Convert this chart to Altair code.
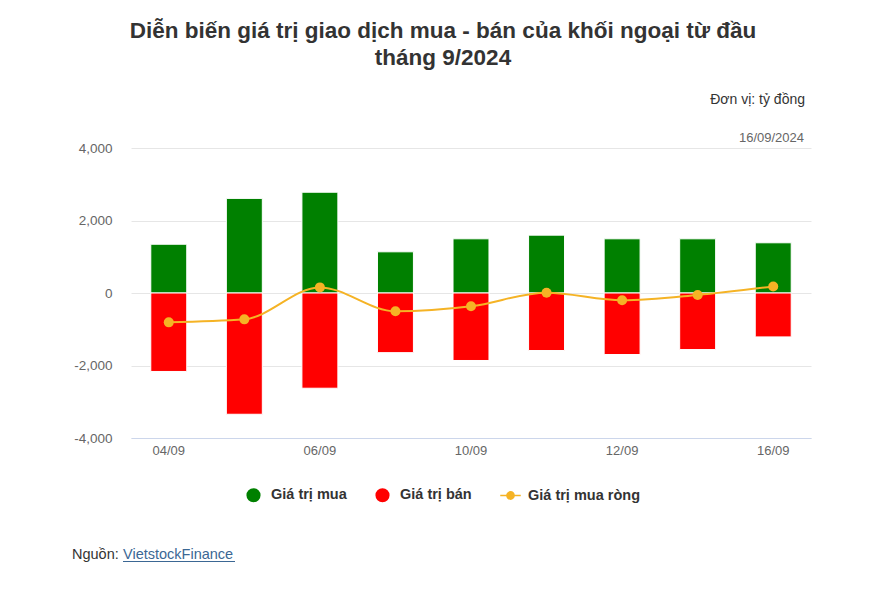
import altair as alt
import pandas as pd

dates = ["04/09", "05/09", "06/09", "09/09", "10/09", "11/09", "12/09", "13/09", "16/09"]
buy = [1345, 2610, 2780, 1136, 1495, 1596, 1495, 1495, 1385]
sell = [-2165, -3345, -2627, -1645, -1862, -1587, -1697, -1560, -1211]
net = [-810, -727, 155, -505, -367, 9, -200, -55, 180]

series_names = ["Giá trị mua", "Giá trị bán", "Giá trị mua ròng"]
series_colors = ["#008000", "#ff0000", "#f5b325"]
x_tick_labels = ["04/09", "06/09", "10/09", "12/09", "16/09"]
y_ticks = [-4000, -2000, 0, 2000, 4000]

FONT = "Liberation Sans"

bars_df = pd.DataFrame(
    {"date": dates * 2,
     "series": [series_names[0]] * len(dates) + [series_names[1]] * len(dates),
     "value": buy + sell}
)
net_df = pd.DataFrame({"date": dates, "series": series_names[2], "value": net})
legend_df = pd.DataFrame({"date": dates[:3], "series": series_names, "value": [0, 0, 0]})

color_scale = alt.Scale(domain=series_names, range=series_colors)
x_enc = alt.X(
    "date:N", sort=dates, title=None,
    scale=alt.Scale(paddingInner=0.524, paddingOuter=0.262),
    axis=alt.Axis(values=x_tick_labels, labelAngle=0, ticks=False, domainColor="#ccd6eb",
                  labelColor="#666666", labelFontSize=13, labelFont=FONT, labelPadding=6,
                  grid=False),
)
y_enc = alt.Y(
    "value:Q", title=None,
    scale=alt.Scale(domain=[-4000, 4000], nice=False),
    axis=alt.Axis(values=y_ticks, format=",d", ticks=False, domain=False,
                  labelExpr="replace(datum.label, '\u2212', '-')",
                  gridColor="#e6e6e6", labelColor="#666666", labelFontSize=13.5,
                  labelFont=FONT, labelPadding=19),
)

line_symbol = ("M-1.45,-0.12L-0.6,-0.12L-0.6,0.12L-1.45,0.12Z "
               "M0.6,-0.12L1.45,-0.12L1.45,0.12L0.6,0.12Z "
               "M-0.62,0A0.62,0.62,0,1,1,0.62,0A0.62,0.62,0,1,1,-0.62,0Z")

legend_cfg = dict(orient="none", legendX=115, legendY=339.5, direction="horizontal",
                  symbolStrokeWidth=0, labelFont=FONT, labelFontSize=14.5,
                  labelFontWeight="bold", labelColor="#333333", labelOffset=10,
                  columnPadding=28, symbolSize=200, title=None)

color_enc = alt.Color("series:N", scale=color_scale, title=None,
                      legend=alt.Legend(**legend_cfg))

bars = alt.Chart(bars_df).mark_bar(stroke="white", strokeWidth=1).encode(
    x=x_enc, y=y_enc, color=color_enc,
)

line = alt.Chart(net_df).mark_line(interpolate="monotone", strokeWidth=2).encode(
    x=x_enc, y=y_enc, color=color_enc,
)
points = alt.Chart(net_df).mark_point(filled=True, size=100, opacity=1).encode(
    x=x_enc, y=y_enc, color=color_enc,
)

legend_layer = alt.Chart(legend_df).mark_point(filled=True, size=200).encode(
    x=x_enc, y=y_enc,
    color=color_enc,
    shape=alt.Shape("series:N", title=None,
                    scale=alt.Scale(domain=series_names, range=["circle", "circle", line_symbol]),
                    legend=alt.Legend(**legend_cfg)),
).transform_filter("false")

one = pd.DataFrame({"a": [0]})

unit_text = alt.Chart(one).mark_text(
    text="Đơn vị: tỷ đồng", align="right", baseline="alphabetic",
    font=FONT, fontSize=14, color="#333333"
).encode(x=alt.value(674), y=alt.value(-44))

date_text = alt.Chart(one).mark_text(
    text="16/09/2024", align="right", baseline="alphabetic",
    font=FONT, fontSize=13, color="#666666"
).encode(x=alt.value(673), y=alt.value(-6))

source_text = alt.Chart(one).mark_text(
    text="Nguồn:", align="left", baseline="alphabetic",
    font=FONT, fontSize=14.5, color="#333333"
).encode(x=alt.value(-59), y=alt.value(411))

link_text = alt.Chart(one).mark_text(
    text="VietstockFinance", align="left", baseline="alphabetic",
    font=FONT, fontSize=14.5, color="#3b6794"
).encode(x=alt.value(-8), y=alt.value(411))

link_line = alt.Chart(one).mark_rule(color="#3b6794", strokeWidth=1).encode(
    x=alt.value(-8), x2=alt.value(104), y=alt.value(413.5)
)

chart = alt.layer(
    bars, line, points, legend_layer, unit_text, date_text, source_text, link_text, link_line
).resolve_scale(color="shared").properties(
    width=680, height=290,
    autosize=alt.AutoSizeParams(type="none"),
    padding={"left": 123, "top": 140, "right": 51, "bottom": 140},
    title=alt.Title(
        text=["Diễn biến giá trị giao dịch mua - bán của khối ngoại từ đầu", "tháng 9/2024"],
        font=FONT, fontSize=22.5, fontWeight="bold", color="#333333",
        anchor="middle", dx=-28, offset=24, lineHeight=27,
    ),
).configure(font=FONT, view=alt.ViewConfig(stroke=None))

chart.save("out.html", embed_options={"renderer": "svg", "actions": False})
